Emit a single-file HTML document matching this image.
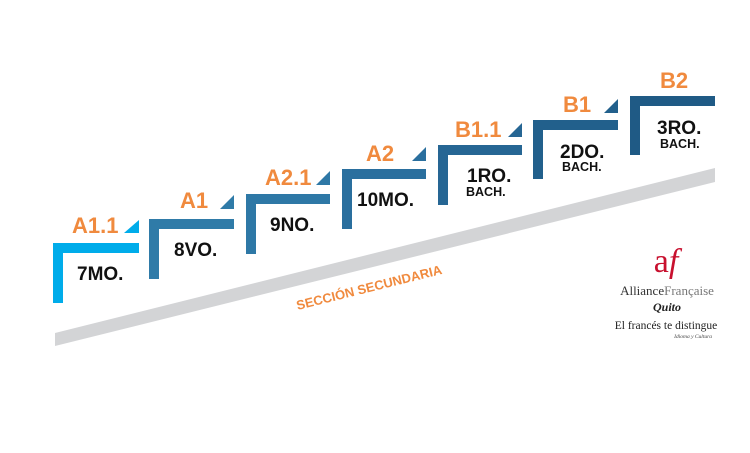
<!DOCTYPE html>
<html><head><meta charset="utf-8"><style>
html,body{margin:0;padding:0;background:#fff;}
svg{display:block;}
.lv{font-family:"Liberation Sans",sans-serif;font-weight:bold;font-size:22px;fill:#f08a3e;}
.gr{font-family:"Liberation Sans",sans-serif;font-weight:bold;font-size:19px;fill:#111;}
.bc{font-family:"Liberation Sans",sans-serif;font-weight:bold;font-size:12.5px;fill:#111;}
</style></head><body>
<svg width="750" height="453" viewBox="0 0 750 453" xmlns="http://www.w3.org/2000/svg">
<polygon points="55,333 715,168 715,182 55,346" fill="#d3d4d6"/>
<text x="369" y="292" text-anchor="middle" transform="rotate(-14 369 287)" font-family="Liberation Sans, sans-serif" font-weight="bold" font-size="13" fill="#f08a3e">SECCIÓN SECUNDARIA</text>

<g fill="#00acea"><rect x="53" y="243" width="86" height="10"/><rect x="53" y="243" width="10" height="60"/><polygon points="124,233 139,233 139,220"/></g>
<text class="lv" x="72" y="233">A1.1</text>
<text class="gr" x="77" y="280">7MO.</text>
<g fill="#2f7ba8"><rect x="149" y="219" width="85" height="10"/><rect x="149" y="219" width="10" height="60"/><polygon points="220,209 234,209 234,195"/></g>
<text class="lv" x="180" y="208">A1</text>
<text class="gr" x="174" y="256">8VO.</text>
<g fill="#2e78a6"><rect x="246" y="194" width="84" height="10"/><rect x="246" y="194" width="10" height="60"/><polygon points="316,185 330,185 330,171"/></g>
<text class="lv" x="265" y="185">A2.1</text>
<text class="gr" x="270" y="231">9NO.</text>
<g fill="#2a6f9e"><rect x="342" y="169" width="84" height="10"/><rect x="342" y="169" width="10" height="60"/><polygon points="412,161 426,161 426,147"/></g>
<text class="lv" x="366" y="161">A2</text>
<text class="gr" x="357" y="206">10MO.</text>
<g fill="#266694"><rect x="438" y="145" width="84" height="10"/><rect x="438" y="145" width="10" height="60"/><polygon points="508,137 522,137 522,123"/></g>
<text class="lv" x="455" y="137">B1.1</text>
<text class="gr" x="467" y="182">1RO.</text>
<text class="bc" x="466" y="196">BACH.</text>
<g fill="#22608c"><rect x="533" y="120" width="85" height="10"/><rect x="533" y="120" width="10" height="59"/><polygon points="604,113 618,113 618,99"/></g>
<text class="lv" x="563" y="112">B1</text>
<text class="gr" x="560" y="158">2DO.</text>
<text class="bc" x="562" y="171">BACH.</text>
<g fill="#1f5a85"><rect x="630" y="96" width="85" height="10"/><rect x="630" y="96" width="10" height="59"/></g>
<text class="lv" x="660" y="88">B2</text>
<text class="gr" x="657" y="134">3RO.</text>
<text class="bc" x="660" y="148">BACH.</text>

<text x="666" y="272" text-anchor="middle" font-family="Liberation Serif, serif" font-size="34" fill="#c8102e">a<tspan font-style="italic">f</tspan></text>
<text x="667" y="295" text-anchor="middle" font-family="Liberation Serif, serif" font-size="13"><tspan fill="#333">Alliance</tspan><tspan fill="#777">Française</tspan></text>
<text x="667" y="311" text-anchor="middle" font-family="Liberation Serif, serif" font-size="12" font-style="italic" font-weight="bold" fill="#222">Quito</text>
<text x="666" y="329" text-anchor="middle" font-family="Liberation Serif, serif" font-size="11.5" fill="#222">El francés te distingue</text>
<text x="712" y="338" text-anchor="end" font-family="Liberation Serif, serif" font-size="5.5" font-style="italic" fill="#444">Idioma y Cultura</text>
</svg>
</body></html>
